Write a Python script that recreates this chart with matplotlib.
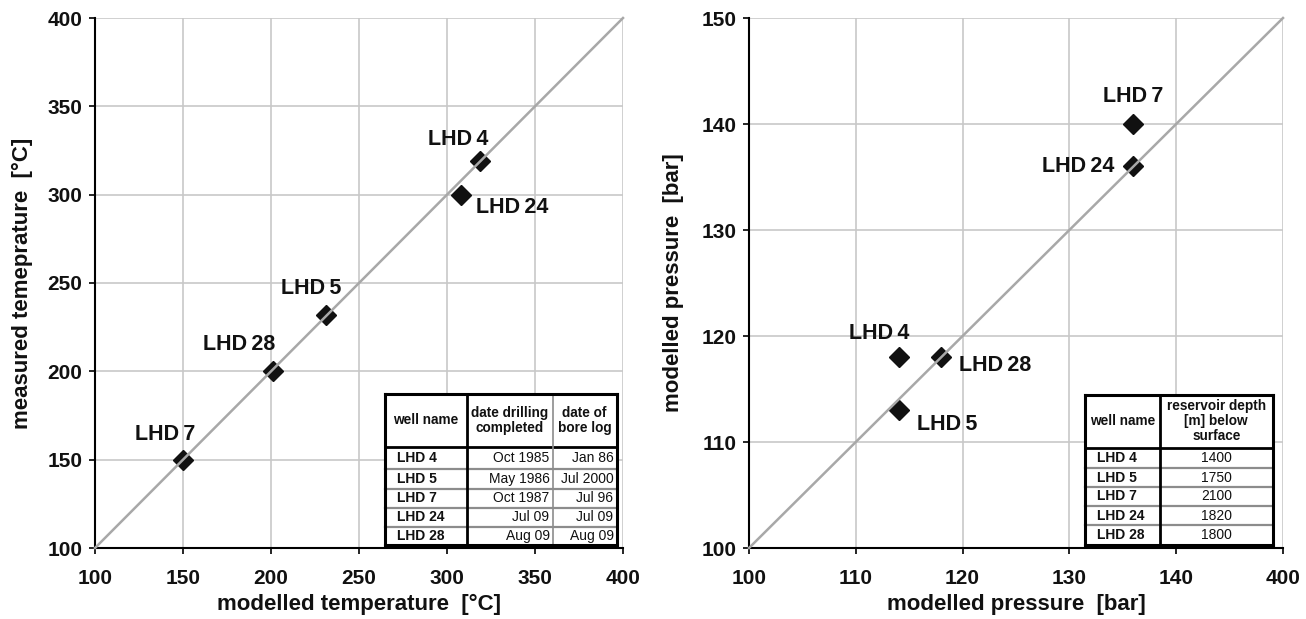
import matplotlib
matplotlib.use("Agg")
import matplotlib.pyplot as plt
from matplotlib.lines import Line2D

plt.rcParams['font.family'] = ['Liberation Sans', 'DejaVu Sans']

# ---------------- data ----------------
wells = ["LHD 4", "LHD 5", "LHD 7", "LHD 24", "LHD 28"]
temp_modelled = [319, 231, 150, 308, 201]
temp_measured = [319, 232, 150, 300, 200]
press_modelled = [114, 114, 136, 136, 118]
press_measured = [118, 113, 140, 136, 118]

temp_ticks = [100, 150, 200, 250, 300, 350, 400]
press_ticks = [100, 110, 120, 130, 140, 150]
press_xticklabels = ["100", "110", "120", "130", "140", "400"]

date_drilled = ["Oct 1985", "May 1986", "Oct 1987", "Jul 09", "Aug 09"]
date_log = ["Jan 86", "Jul 2000", "Jul 96", "Jul 09", "Aug 09"]
depth = ["1400", "1750", "2100", "1820", "1800"]

# point label offsets in pixels (dx, dy, ha)
temp_label_off = {"LHD 4": (-22, 22, 'center'), "LHD 5": (-14, 26, 'center'),
                  "LHD 7": (-18, 25, 'center'), "LHD 24": (15, -13, 'left'),
                  "LHD 28": (-34, 27, 'center')}
press_label_off = {"LHD 4": (-19, 24, 'center'), "LHD 5": (18, -14, 'left'),
                   "LHD 7": (0, 28, 'center'), "LHD 24": (-19, 0, 'right'),
                   "LHD 28": (18, -8, 'left')}

W, H = 1306, 619
fig = plt.figure(figsize=(W / 100, H / 100), dpi=100)

def fx(px):
    return px / W

def fy(py):
    return 1 - py / H

grid_c = '#c8c8c8'
diag_c = '#a8a8a8'

def style_axes(ax, lim, ticks, ticklabels, xlabel, ylabel, ylab_x):
    ax.set_xlim(lim)
    ax.set_ylim(lim)
    ax.set_xticks(ticks)
    ax.set_yticks(ticks)
    ax.set_xticklabels(ticklabels if ticklabels else [str(t) for t in ticks])
    ax.set_yticklabels([str(t) for t in ticks])
    ax.grid(True, color=grid_c, linewidth=1.2, zorder=0)
    ax.set_axisbelow(True)
    for s in ['top', 'right']:
        ax.spines[s].set_visible(False)
    for s in ['left', 'bottom']:
        ax.spines[s].set_linewidth(1.5)
        ax.spines[s].set_color('black')
    ax.tick_params(direction='out', length=4, width=1.2, colors='black',
                   labelsize=15)
    ax.tick_params(axis='x', pad=11)
    ax.tick_params(axis='y', pad=5)
    for lab in ax.get_xticklabels() + ax.get_yticklabels():
        lab.set_fontweight('bold')
        lab.set_color('#111111')
    ax.set_xlabel(xlabel, fontsize=16, fontweight='bold', color='#111111')
    ax.set_ylabel(ylabel, fontsize=16, fontweight='bold', color='#111111')
    ax.xaxis.set_label_coords(0.5, -0.087)
    ax.yaxis.set_label_coords(ylab_x, 0.5)
    ax.plot(lim, lim, color=diag_c, linewidth=1.8, zorder=4, clip_on=False)

def draw_points(ax, xs, ys, offs):
    ax.plot(xs, ys, linestyle='none', marker='D', markersize=10.5,
            color='#111111', zorder=3, clip_on=False)
    for name, x, y in zip(wells, xs, ys):
        dx, dy, ha = offs[name]
        ax.annotate(name.replace(" ", "\u2009"), (x, y), xytext=(dx, dy),
                    textcoords='offset pixels', ha=ha, va='center',
                    fontsize=15.5, fontweight='bold', color='#111111', zorder=5)

# ---------- left axes ----------
ax1 = fig.add_axes([fx(95), fy(548), fx(623) - fx(95), fy(18) - fy(548)])
style_axes(ax1, (100, 400), temp_ticks, None,
           "modelled temperature  [\u00b0C]", "measured temeprature  [\u00b0C]", -0.117)
draw_points(ax1, temp_modelled, temp_measured, temp_label_off)

# ---------- right axes ----------
ax2 = fig.add_axes([fx(749), fy(548), fx(1283) - fx(749), fy(18) - fy(548)])
style_axes(ax2, (100, 150), press_ticks, press_xticklabels,
           "modelled pressure  [bar]", "modelled pressure  [bar]", -0.122)
draw_points(ax2, press_modelled, press_measured, press_label_off)

# ---------- tables ----------
def hline(x0, x1, y, lw, c):
    fig.add_artist(Line2D([fx(x0), fx(x1)], [fy(y), fy(y)], lw=lw, color=c, zorder=10))

def vline(x, y0, y1, lw, c):
    fig.add_artist(Line2D([fx(x), fx(x)], [fy(y0), fy(y1)], lw=lw, color=c, zorder=10))

def draw_table(x_edges, top, head_bottom, row_lines, bottom, headers, columns,
               col_align, inner_v_colors):
    x0, x1 = x_edges[0], x_edges[-1]
    fig.add_artist(plt.Rectangle((fx(x0), fy(bottom)), fx(x1) - fx(x0),
                                 fy(top) - fy(bottom), transform=fig.transFigure,
                                 facecolor='white', edgecolor='none', zorder=9))
    for y in row_lines:
        hline(x0, x1, y, 1.6, '#8c8c8c')
    hline(x0, x1, head_bottom, 2.0, 'black')
    for x, c in zip(x_edges[1:-1], inner_v_colors):
        vline(x, top, bottom, 2.0 if c == 'black' else 1.2, c)
    hline(x0, x1, top, 2.2, 'black')
    hline(x0, x1, bottom, 2.2, 'black')
    vline(x0, top, bottom, 2.2, 'black')
    vline(x1, top, bottom, 2.2, 'black')
    for i, h in enumerate(headers):
        cx = (x_edges[i] + x_edges[i + 1]) / 2
        fig.text(fx(cx), fy((top + head_bottom) / 2), h, ha='center', va='center',
                 fontsize=9.8, fontweight='bold', color='#111111', zorder=11,
                 linespacing=1.1)
    rows_y = [head_bottom] + row_lines + [bottom]
    for j in range(len(columns[0])):
        cy = (rows_y[j] + rows_y[j + 1]) / 2
        for i, col in enumerate(columns):
            al = col_align[i]
            if al == 'left':
                tx = x_edges[i] + 12
            elif al == 'right':
                tx = x_edges[i + 1] - 3
            else:
                tx = (x_edges[i] + x_edges[i + 1]) / 2
            fig.text(fx(tx), fy(cy), col[j], ha=al, va='center',
                     fontsize=10, fontweight='bold' if i == 0 else 'normal',
                     color='#111111', zorder=11)

draw_table([385, 466.5, 552.5, 616.5], 393.5, 447, [469, 488.5, 507.5, 526.5], 545,
           ["well name", "date drilling\ncompleted", "date of\nbore log"],
           [wells, date_drilled, date_log],
           ['left', 'right', 'right'], ['black', '#8c8c8c'])

draw_table([1085, 1160, 1272.5], 395, 447.5, [468, 487, 506, 525], 545,
           ["well name", "reservoir depth\n[m] below\nsurface"],
           [wells, depth],
           ['left', 'center'], ['black'])

fig.savefig("out.png", dpi=100)
